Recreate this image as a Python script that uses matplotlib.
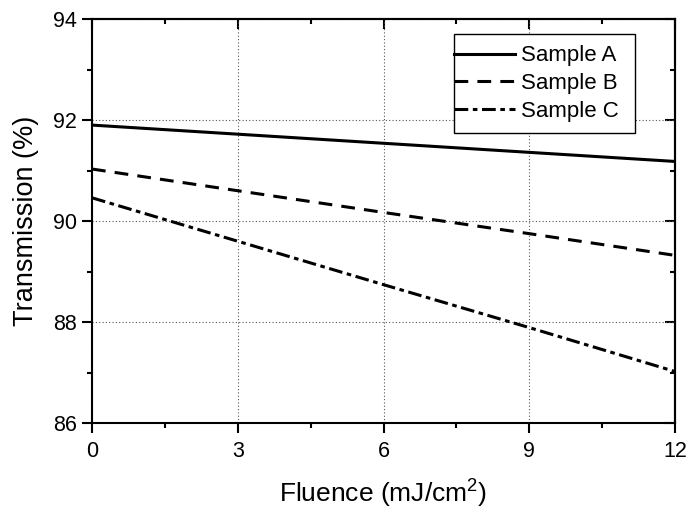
import matplotlib
matplotlib.use("Agg")
import matplotlib.pyplot as plt
from matplotlib.patches import Rectangle
from matplotlib.ticker import MultipleLocator

plt.rcParams['font.family'] = ['Liberation Sans', 'DejaVu Sans']

fluence = [0, 3, 6, 9, 12]
sample_a = [91.90, 91.72, 91.54, 91.36, 91.18]
sample_b = [91.03, 90.60, 90.17, 89.75, 89.32]
sample_c = [90.46, 89.60, 88.74, 87.89, 87.02]
labels = ["Sample A", "Sample B", "Sample C"]
xticks = [0, 3, 6, 9, 12]
yticks = [86, 88, 90, 92, 94]

fig = plt.figure(figsize=(6.9, 5.12), dpi=100)
ax = fig.add_axes([0.1333, 0.1738, 0.845, 0.789])

lw = 2.2
l1, = ax.plot(fluence, sample_a, color='black', lw=lw, linestyle='-', label=labels[0])
l2, = ax.plot(fluence, sample_b, color='black', lw=lw, linestyle=(0, (4.5, 3)), label=labels[1])
l3, = ax.plot(fluence, sample_c, color='black', lw=lw, linestyle=(0, (4.5, 1.5, 1.5, 1.5)), label=labels[2])

ax.set_xlim(0, 12)
ax.set_ylim(86, 94)
ax.set_xticks(xticks)
ax.set_yticks(yticks)
ax.xaxis.set_minor_locator(MultipleLocator(1.5))
ax.yaxis.set_minor_locator(MultipleLocator(1))

ax.grid(True, which='major', color='#555555', linestyle=(0, (1, 2)), linewidth=0.8)
ax.set_axisbelow(True)

for s in ax.spines.values():
    s.set_linewidth(1.5)

ax.tick_params(which='both', direction='out', width=1.5, labelsize=15.5, top=False, right=False)
ax.tick_params(which='major', length=7)
ax.tick_params(axis='x', which='major', pad=6)
ax.tick_params(axis='y', which='major', pad=4)
ax.tick_params(which='minor', length=3.5)

# mirrored inward ticks on top and right
axt = ax.secondary_xaxis('top')
axt.set_xticks(xticks)
axt.xaxis.set_minor_locator(MultipleLocator(1.5))
axt.tick_params(which='both', direction='in', width=1.5, labeltop=False)
axt.tick_params(which='major', length=7)
axt.tick_params(which='minor', length=3.5)
axr = ax.secondary_yaxis('right')
axr.set_yticks(yticks)
axr.yaxis.set_minor_locator(MultipleLocator(1))
axr.tick_params(which='both', direction='in', width=1.5, labelright=False)
axr.tick_params(which='major', length=7)
axr.tick_params(which='minor', length=3.5)
for a in (axt, axr):
    for s in a.spines.values():
        s.set_linewidth(1.5)

ax.set_xlabel("Fluence (mJ/cm$^\\mathregular{2}$)", fontsize=19, labelpad=10)
ax.set_ylabel("Transmission (%)", fontsize=19.5, labelpad=10)

leg = ax.legend(handles=[l1, l2, l3], loc='upper left', bbox_to_anchor=(0.621, 0.935),
                frameon=False, fontsize=16, handlelength=2.75, handletextpad=0.27,
                labelspacing=0.3, borderpad=0, borderaxespad=0)
ax.add_patch(Rectangle((0.621, 0.718), 0.31, 0.245, transform=ax.transAxes,
                       fill=True, facecolor='white', edgecolor='black', lw=1.0, zorder=4))
leg.set_zorder(5)

fig.savefig("out.png", dpi=100)
